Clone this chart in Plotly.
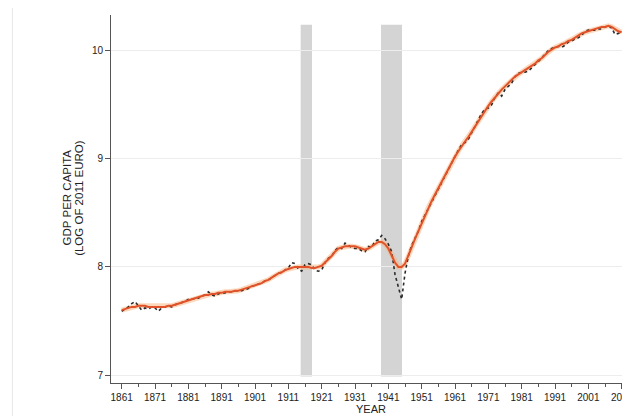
import plotly.graph_objects as go

years = list(range(1861, 2012))

trend = [
    7.60, 7.61, 7.62, 7.63, 7.63, 7.64, 7.64, 7.64, 7.63, 7.63,   # 1861-1870
    7.63, 7.63, 7.63, 7.63, 7.64, 7.64, 7.65, 7.66, 7.67, 7.68,   # 1871-1880
    7.69, 7.70, 7.71, 7.72, 7.73, 7.74, 7.74, 7.75, 7.75, 7.76,   # 1881-1890
    7.76, 7.77, 7.77, 7.77, 7.78, 7.78, 7.79, 7.80, 7.81, 7.82,   # 1891-1900
    7.83, 7.84, 7.85, 7.87, 7.88, 7.90, 7.92, 7.94, 7.95, 7.97,   # 1901-1910
    7.98, 7.99, 8.00, 8.00, 8.00, 8.00, 8.00, 7.99, 7.99, 8.00,   # 1911-1920
    8.01, 8.04, 8.07, 8.10, 8.14, 8.17, 8.18, 8.19, 8.19, 8.19,   # 1921-1930
    8.19, 8.18, 8.17, 8.16, 8.17, 8.19, 8.21, 8.23, 8.23, 8.21,   # 1931-1940
    8.17, 8.11, 8.04, 8.00, 8.00, 8.03, 8.10, 8.18, 8.26, 8.33,   # 1941-1950
    8.41, 8.48, 8.55, 8.61, 8.67, 8.73, 8.79, 8.85, 8.91, 8.97,   # 1951-1960
    9.02, 9.07, 9.12, 9.16, 9.20, 9.25, 9.30, 9.35, 9.40, 9.45,   # 1961-1970
    9.49, 9.53, 9.57, 9.61, 9.64, 9.67, 9.70, 9.73, 9.76, 9.78,   # 1971-1980
    9.80, 9.82, 9.84, 9.86, 9.88, 9.91, 9.93, 9.96, 9.99, 10.01,  # 1981-1990
    10.03, 10.04, 10.06, 10.07, 10.09, 10.10, 10.12, 10.14, 10.16, 10.17,  # 1991-2000
    10.18, 10.19, 10.20, 10.21, 10.22, 10.22, 10.23, 10.22, 10.20, 10.18,  # 2001-2010
    10.17,                                                        # 2011
]

actual = [
    7.59, 7.61, 7.63, 7.66, 7.68, 7.64, 7.60, 7.62, 7.61, 7.63,   # 1861-1870
    7.62, 7.59, 7.62, 7.63, 7.64, 7.63, 7.65, 7.66, 7.67, 7.68,   # 1871-1880
    7.70, 7.70, 7.71, 7.71, 7.73, 7.74, 7.77, 7.74, 7.73, 7.75,   # 1881-1890
    7.76, 7.76, 7.77, 7.77, 7.78, 7.78, 7.78, 7.79, 7.80, 7.82,   # 1891-1900
    7.83, 7.84, 7.85, 7.87, 7.88, 7.90, 7.92, 7.94, 7.95, 7.97,   # 1901-1910
    7.99, 8.04, 8.03, 7.98, 7.96, 8.02, 8.03, 8.02, 7.97, 7.96,   # 1911-1920
    7.97, 8.04, 8.08, 8.10, 8.15, 8.18, 8.17, 8.22, 8.20, 8.18,   # 1921-1930
    8.17, 8.17, 8.15, 8.14, 8.19, 8.18, 8.24, 8.25, 8.29, 8.26,   # 1931-1940
    8.21, 8.14, 7.93, 7.82, 7.70, 7.94, 8.10, 8.20, 8.26, 8.33,   # 1941-1950
    8.42, 8.48, 8.55, 8.61, 8.67, 8.73, 8.79, 8.85, 8.91, 8.97,   # 1951-1960
    9.03, 9.08, 9.13, 9.15, 9.18, 9.24, 9.31, 9.37, 9.42, 9.46,   # 1961-1970
    9.47, 9.50, 9.57, 9.61, 9.58, 9.64, 9.67, 9.70, 9.76, 9.79,   # 1971-1980
    9.80, 9.80, 9.81, 9.84, 9.87, 9.90, 9.93, 9.97, 10.00, 10.02, # 1981-1990
    10.03, 10.04, 10.03, 10.05, 10.08, 10.09, 10.11, 10.12, 10.14, 10.18,  # 1991-2000
    10.19, 10.19, 10.19, 10.20, 10.20, 10.22, 10.23, 10.21, 10.15, 10.16,  # 2001-2010
    10.17,                                                        # 2011
]

war_start = [1914.7, 1938.8]
war_end = [1918.1, 1945.1]
war_bottom = 6.985
war_top = 10.24

x_tickvals = list(range(1861, 2012, 10))
x_ticktext = [str(v) for v in x_tickvals]
x_minor = list(range(1866, 2012, 10))
y_tickvals = [7, 8, 9, 10]

x_title = "YEAR"
y_title_lines = ["GDP PER CAPITA", "(LOG OF 2011 EURO)"]

fig = go.Figure()

for s, e in zip(war_start, war_end):
    fig.add_shape(type="rect", xref="x", yref="y", x0=s, x1=e,
                  y0=war_bottom, y1=war_top, fillcolor="#d4d4d4",
                  line_width=0, layer="below")

# faint frame line at the far left of the image
fig.add_shape(type="line", xref="paper", yref="paper", x0=-0.19, x1=-0.19,
              y0=-0.09, y1=1.04, line=dict(color="#e6e6e6", width=1))

fig.add_trace(go.Scatter(x=years, y=trend, mode="lines",
                         line=dict(color="rgba(247,178,120,0.5)", width=5),
                         hoverinfo="skip", showlegend=False))
fig.add_trace(go.Scatter(x=years, y=actual, mode="lines",
                         line=dict(color="#2b2b2b", width=1.6, dash="dot"),
                         showlegend=False))
fig.add_trace(go.Scatter(x=years, y=trend, mode="lines",
                         line=dict(color="#e2522a", width=2),
                         showlegend=False))

font_family = "Liberation Sans, Arial, sans-serif"

fig.add_annotation(text=x_title, xref="paper", yref="paper", x=0.5, y=-0.0707,
                   xanchor="center", yanchor="middle", showarrow=False,
                   font=dict(size=11, color="#222222"))
for xp, line in zip([-0.0857, -0.0617], y_title_lines):
    fig.add_annotation(text=line, xref="paper", yref="paper", x=xp, y=0.503,
                       xanchor="center", yanchor="middle", showarrow=False,
                       textangle=-90, font=dict(size=11.5, color="#222222"))

# the page body has an 8px margin, so the figure is sized to end at the window edge
fig.update_layout(
    width=622, height=408,
    margin=dict(l=103, r=0, t=7, b=33),
    paper_bgcolor="white", plot_bgcolor="white",
    font=dict(family=font_family, size=10, color="#222222"),
    showlegend=False,
    xaxis=dict(
        range=[1857.8, 2013.5], automargin=False,
        tickvals=x_tickvals, ticktext=x_ticktext,
        ticklabeloverflow="allow",
        ticks="outside", ticklen=5, tickwidth=1, tickcolor="#555555",
        showline=True, linecolor="#555555", linewidth=1,
        showgrid=False, zeroline=False,
        minor=dict(tickvals=x_minor, ticks="outside",
                   ticklen=3, tickcolor="#555555", showgrid=False),
        tickfont=dict(size=10),
    ),
    yaxis=dict(
        range=[6.926, 10.33], automargin=False,
        tickvals=y_tickvals,
        ticks="outside", ticklen=5, tickwidth=1, tickcolor="#555555",
        showline=True, linecolor="#555555", linewidth=1,
        showgrid=True, gridcolor="#ededed", gridwidth=1,
        zeroline=False,
        tickfont=dict(size=10),
    ),
)

fig.write_html("out.html")
